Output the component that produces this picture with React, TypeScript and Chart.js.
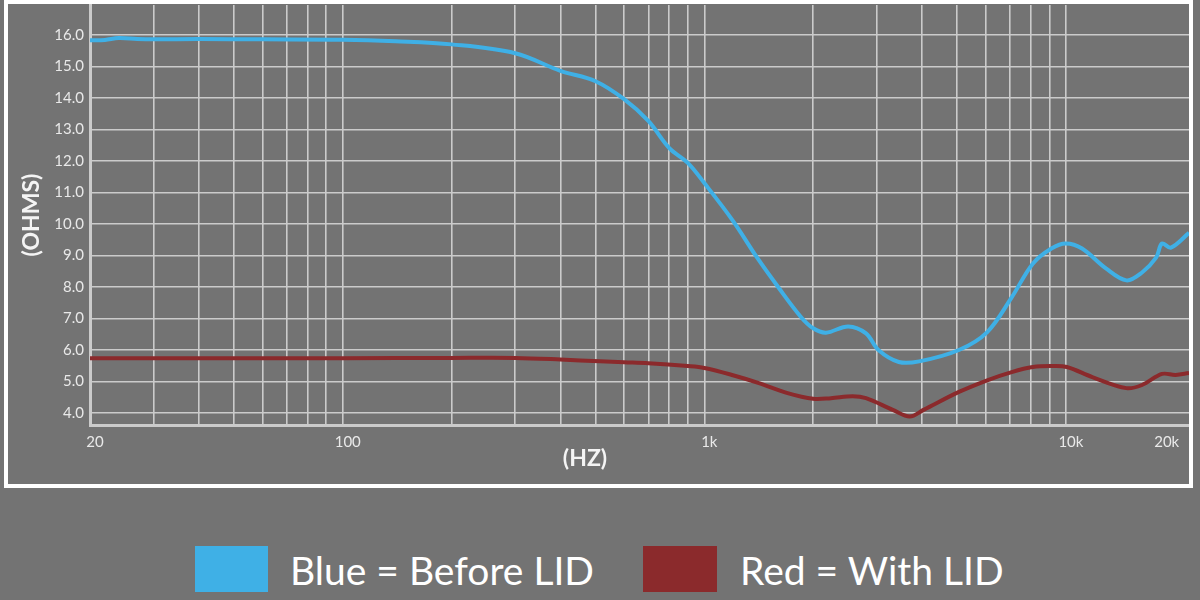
import React, { useEffect, useRef } from "react";
import { Chart, registerables } from "chart.js";

Chart.register(...registerables);

// ---- Data ----
const blueFreq = [20, 22, 24, 27, 30, 40, 60, 100, 140, 200, 300, 400, 500, 600, 700, 800, 900, 1000, 1200, 1400, 1600, 1850, 2000, 2170, 2500, 2800, 3030, 3450, 3930, 5060, 6060, 7080, 8100, 9120, 10000, 11080, 12900, 14700, 16240, 17760, 18440, 19520, 21900];
const blueOhms = [15.83, 15.84, 15.9, 15.87, 15.86, 15.87, 15.86, 15.85, 15.8, 15.7, 15.42, 14.86, 14.53, 13.96, 13.27, 12.41, 11.94, 11.3, 10.1, 8.93, 8.0, 7.05, 6.69, 6.55, 6.75, 6.53, 6.0, 5.62, 5.64, 6.0, 6.57, 7.67, 8.74, 9.22, 9.38, 9.22, 8.59, 8.21, 8.46, 8.93, 9.38, 9.25, 9.72];

const redFreq = [20, 50, 100, 200, 300, 400, 514, 600, 700, 900, 1000, 1200, 1416, 1690, 2000, 2240, 2570, 2800, 3320, 3700, 4040, 5060, 6060, 7080, 8100, 9120, 10060, 11830, 14700, 16240, 18440, 20100, 21900];
const redOhms = [5.74, 5.74, 5.74, 5.75, 5.75, 5.7, 5.64, 5.61, 5.58, 5.49, 5.43, 5.2, 4.95, 4.64, 4.45, 4.47, 4.53, 4.47, 4.1, 3.89, 4.1, 4.67, 5.04, 5.3, 5.46, 5.49, 5.46, 5.14, 4.79, 4.89, 5.24, 5.21, 5.27];

const gridFreqs = [20, 30, 40, 50, 60, 70, 80, 90, 100, 200, 300, 400, 500, 600, 700, 800, 900, 1000, 2000, 3000, 4000, 5000, 6000, 7000, 8000, 9000, 10000, 20000];
const xTickLabels: Record<number, string> = { 20: "20", 100: "100", 1000: "1k", 10000: "10k", 20000: "20k\u2007\u2007\u2007" };
const yTickValues = [4, 5, 6, 7, 8, 9, 10, 11, 12, 13, 14, 15, 16];

const xMin = 20;
const xMax = 21900;
const yMin = 3.62;
const yMax = 16.95;

const seriesNames = ["Before LID", "With LID"];
const legendLabels = ["Blue = Before LID", "Red = With LID"];

const BLUE = "#3fb0e6";
const RED = "#8b2a2c";
const BG = "#737373";
const GRID = "#cbcbcb";
const TICK = "#e9e9e9";
const FONT = "Lato, 'Open Sans', sans-serif";

export default function App() {
  const canvasRef = useRef<HTMLCanvasElement | null>(null);

  useEffect(() => {
    document.body.style.margin = "0";
    document.body.style.background = BG;
    const canvas = canvasRef.current;
    if (!canvas) return;
    const chart = new Chart(canvas, {
      type: "line",
      data: {
        datasets: [
          {
            label: seriesNames[0],
            data: blueFreq.map((f, i) => ({ x: f, y: blueOhms[i] })),
            borderColor: BLUE,
            borderWidth: 4,
            pointRadius: 0,
            tension: 0.35,
            fill: false,
          },
          {
            label: seriesNames[1],
            data: redFreq.map((f, i) => ({ x: f, y: redOhms[i] })),
            borderColor: RED,
            borderWidth: 4,
            pointRadius: 0,
            tension: 0.35,
            fill: false,
          },
        ],
      },
      options: {
        animation: false,
        responsive: false,
        maintainAspectRatio: false,
        layout: { padding: { left: 0, right: 11, top: 5, bottom: 0 } },
        plugins: {
          legend: { display: false },
          tooltip: { enabled: false },
        },
        scales: {
          x: {
            type: "logarithmic",
            min: xMin,
            max: xMax,
            afterBuildTicks: (scale: any) => {
              scale.ticks = gridFreqs.map((v) => ({ value: v }));
            },
            afterFit: (scale: any) => {
              scale.height = 65;
              scale.paddingLeft = 0;
              scale.paddingRight = 0;
            },
            grid: {
              color: (ctx: any) =>
                ctx.tick && ctx.tick.value === 20000 ? "rgba(0,0,0,0)" : GRID,
              lineWidth: 1.6,
              drawTicks: false,
            },
            border: { display: true, color: GRID, width: 3 },
            ticks: {
              autoSkip: false,
              maxRotation: 0,
              minRotation: 0,
              padding: 8,
              labelOffset: 5,
              color: TICK,
              font: { family: FONT, size: 15 },
              callback: (value: any) => xTickLabels[Number(value)] ?? "",
            },
          },
          y: {
            type: "linear",
            min: yMin,
            max: yMax,
            afterBuildTicks: (scale: any) => {
              scale.ticks = yTickValues.map((v) => ({ value: v }));
            },
            afterFit: (scale: any) => {
              scale.width = 90;
              scale.paddingTop = 0;
              scale.paddingBottom = 0;
            },
            grid: { color: GRID, lineWidth: 1.6, drawTicks: false },
            border: { display: true, color: GRID, width: 3 },
            ticks: {
              padding: 6,
              color: TICK,
              font: { family: FONT, size: 15 },
              callback: (value: any) => Number(value).toFixed(1),
            },
          },
        },
      },
    });
    return () => chart.destroy();
  }, []);

  const textBase: React.CSSProperties = {
    position: "absolute",
    color: "#ffffff",
    fontFamily: FONT,
    whiteSpace: "nowrap",
  };

  return (
    <div
      style={{
        position: "fixed",
        left: 0,
        top: 0,
        width: 1200,
        height: 600,
        background: BG,
        overflow: "hidden",
      }}
    >
      <canvas
        ref={canvasRef}
        width={1200}
        height={490}
        style={{ position: "absolute", left: 0, top: 0, width: 1200, height: 490 }}
      />
      <div
        style={{
          position: "absolute",
          left: 4,
          top: 0,
          width: 1189,
          height: 488,
          boxSizing: "border-box",
          border: "4px solid #ffffff",
          pointerEvents: "none",
        }}
      />
      <div
        style={{
          ...textBase,
          left: 30,
          top: 215,
          fontSize: 23,
          fontWeight: 700,
          color: "#f4f4f4",
          transform: "translate(-50%, -50%) rotate(-90deg)",
        }}
      >
        (OHMS)
      </div>
      <div
        style={{
          ...textBase,
          left: 585,
          top: 457,
          fontSize: 23,
          fontWeight: 700,
          color: "#f4f4f4",
          transform: "translate(-50%, -50%)",
        }}
      >
        (HZ)
      </div>
      <div style={{ position: "absolute", left: 195, top: 546, width: 73, height: 46, background: BLUE }} />
      <div style={{ ...textBase, left: 290, top: 551, fontSize: 39, lineHeight: "39px" }}>
        {legendLabels[0]}
      </div>
      <div style={{ position: "absolute", left: 643, top: 546, width: 74, height: 46, background: RED }} />
      <div style={{ ...textBase, left: 740, top: 551, fontSize: 39, lineHeight: "39px" }}>
        {legendLabels[1]}
      </div>
    </div>
  );
}
